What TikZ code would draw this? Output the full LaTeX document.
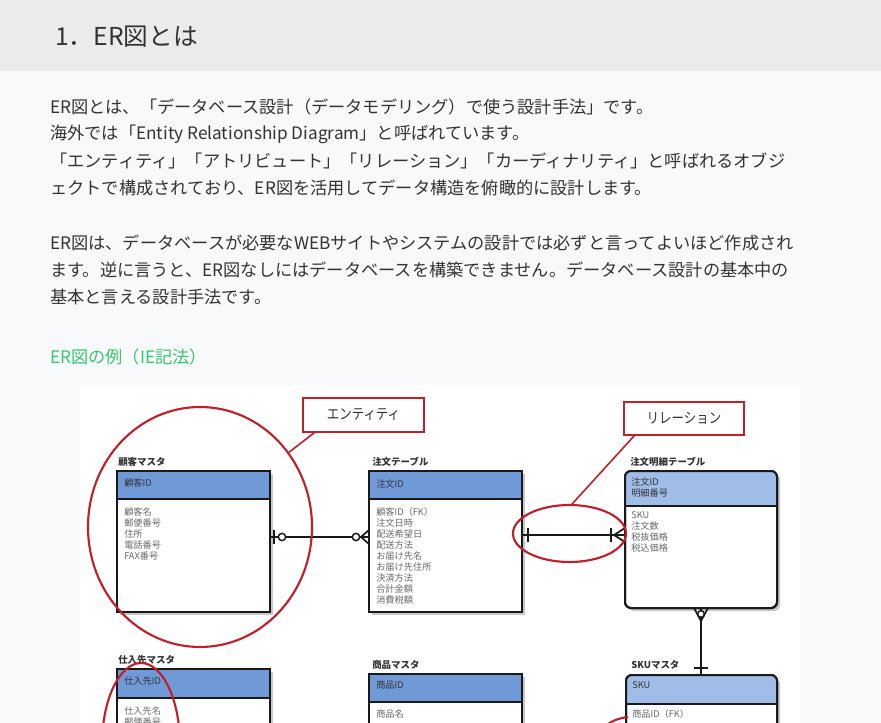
\documentclass[tikz,border=0pt]{standalone}
\usepackage{fontspec}
\setmainfont{Noto Sans CJK JP}
\usetikzlibrary{fit,shapes.geometric}
\definecolor{pagebg}{RGB}{248,249,251}
\definecolor{bandbg}{RGB}{235,235,235}
\definecolor{txt}{RGB}{51,51,51}
\definecolor{grn}{RGB}{52,201,110}
\definecolor{hdrA}{RGB}{112,153,216}
\definecolor{hdrB}{RGB}{160,189,232}
\definecolor{attr}{RGB}{105,105,105}
\definecolor{redl}{RGB}{193,32,42}
\begin{document}
\begin{tikzpicture}[x=0.75pt,y=-0.75pt,
  body/.style={anchor=west,inner sep=0,text=txt,font=\fontsize{12.9pt}{15pt}\selectfont},
  tlabel/.style={anchor=west,inner sep=0,text=black!80,font=\fontsize{7.1pt}{8pt}\selectfont\bfseries},
  hdrtext/.style={anchor=north west,inner sep=0,align=left,text=black!80,font=\fontsize{6.9pt}{8.25pt}\selectfont},
  attrs/.style={anchor=north west,inner sep=0,align=left,text=attr,font=\fontsize{6.9pt}{8.25pt}\selectfont},
  ebox/.style={draw=black!90,line width=1.5pt,fill=white,inner sep=0,outer sep=0},
  hbox/.style={draw=black!90,line width=1.5pt,inner sep=0,outer sep=0},
  shade/.style={fill=black!22},
  conn/.style={draw=black!90,line width=1.5pt},
  sym/.style={draw=black!90,line width=1.3pt},
  ring/.style={draw=black!90,line width=1.1pt,fill=white,circle,inner sep=0,minimum size=5.5pt},
  redbox/.style={draw=redl,line width=1.2pt,fill=white,inner sep=0,text=black!80,font=\fontsize{11pt}{12pt}\selectfont},
  redring/.style={draw=redl,line width=1.6pt,ellipse,inner sep=0},
  redline/.style={draw=redl,line width=1.2pt}
]
\useasboundingbox (0,0) rectangle (881,723);
\clip (0,0) rectangle (881,723);
\fill[pagebg] (0,0) rectangle (881,723);
\fill[bandbg] (0,0) rectangle (881,71);
\node[anchor=west,inner sep=0,text=txt,font=\fontsize{18.5pt}{20pt}\selectfont] (title) at (55,37) {1．ER図とは};

\node[body] (l1) at (50,107) {ER図とは、「データベース設計（データモデリング）で使う設計手法」です。};
\node[body] (l2) at (50,134) {海外では「Entity Relationship Diagram」と呼ばれています。};
\node[body] (l3) at (50,161) {「エンティティ」「アトリビュート」「リレーション」「カーディナリティ」と呼ばれるオブジ};
\node[body] (l4) at (50,188) {ェクトで構成されており、ER図を活用してデータ構造を俯瞰的に設計します。};
\node[body] (m1) at (50,243) {ER図は、データベースが必要なWEBサイトやシステムの設計では必ずと言ってよいほど作成され};
\node[body] (m2) at (50,270) {ます。逆に言うと、ER図なしにはデータベースを構築できません。データベース設計の基本中の};
\node[body] (m3) at (50,297) {基本と言える設計手法です。};
\node[body,text=grn] (ex) at (50,357) {ER図の例（IE記法）};

% diagram canvas
\fill[white] (80,385) rectangle (800,723);

% ---- 顧客マスタ
\node[tlabel] (kokyakuT) at (118,462) {顧客マスタ};
\fill[shade] (120,474) rectangle (273,615);
\node[ebox,fit={(117,471) (270,612)}] (kokyaku) {};
\node[hbox,fill=hdrA,fit={(117,471) (270,499)}] (kokyakuH) {};
\node[hdrtext] (kokyakuK) at (124,479) {顧客ID};
\node[attrs] (kokyakuA) at (124,507) {顧客名\\郵便番号\\住所\\電話番号\\FAX番号};

% ---- 注文テーブル
\node[tlabel] (chumonT) at (372,462) {注文テーブル};
\fill[shade] (372,474) rectangle (525,615);
\node[ebox,fit={(369,471) (522,612)}] (chumon) {};
\node[hbox,fill=hdrA,fit={(369,471) (522,499)}] (chumonH) {};
\node[hdrtext] (chumonK) at (376,479) {注文ID};
\node[attrs] (chumonA) at (376,507) {顧客ID（FK）\\注文日時\\配送希望日\\配送方法\\お届け先名\\お届け先住所\\決済方法\\合計金額\\消費税額};

% ---- 注文明細テーブル
\node[tlabel] (meisaiT) at (630,462) {注文明細テーブル};
\fill[shade,rounded corners=4.5pt] (628,474) rectangle (780,611);
\node[ebox,rounded corners=4.5pt,fit={(625,471) (777,608)}] (meisai) {};
\begin{scope}
\clip[rounded corners=4.5pt] (meisai.north west) rectangle (meisai.south east);
\fill[hdrB] (meisai.north west) rectangle (777,506);
\end{scope}
\draw[conn] (meisai.west |- 0,506) -- (meisai.east |- 0,506);
\draw[conn,rounded corners=4.5pt] (meisai.north west) rectangle (meisai.south east);
\node[hdrtext] (meisaiK) at (631,477) {注文ID\\明細番号};
\node[attrs] (meisaiA) at (631,511) {SKU\\注文数\\税抜価格\\税込価格};

% ---- 仕入先マスタ
\node[tlabel] (shiireT) at (118,660) {仕入先マスタ};
\fill[shade] (120,672) rectangle (273,760);
\node[ebox,fit={(117,669) (270,760)}] (shiire) {};
\node[hbox,fill=hdrA,fit={(117,669) (270,698)}] (shiireH) {};
\node[hdrtext] (shiireK) at (124,677) {仕入先ID};
\node[attrs] (shiireA) at (124,706) {仕入先名\\郵便番号};

% ---- 商品マスタ
\node[tlabel] (shohinT) at (372,665) {商品マスタ};
\fill[shade] (372,677) rectangle (525,760);
\node[ebox,fit={(369,674) (522,760)}] (shohin) {};
\node[hbox,fill=hdrA,fit={(369,674) (522,702)}] (shohinH) {};
\node[hdrtext] (shohinK) at (376,681) {商品ID};
\node[attrs] (shohinA) at (376,709) {商品名};

% ---- SKUマスタ
\node[tlabel] (skuT) at (631,665) {SKUマスタ};
\fill[shade,rounded corners=4.5pt] (629,678) rectangle (780,760);
\node[ebox,rounded corners=4.5pt,fit={(626,675) (777,760)}] (sku) {};
\begin{scope}
\clip[rounded corners=4.5pt] (sku.north west) rectangle (sku.south east);
\fill[hdrB] (sku.north west) rectangle (777,704);
\end{scope}
\draw[conn] (sku.west |- 0,704) -- (sku.east |- 0,704);
\draw[conn,rounded corners=4.5pt] (sku.north west) rectangle (sku.south east);
\node[hdrtext] (skuK) at (632,681) {SKU};
\node[attrs] (skuA) at (632,709) {商品ID（FK）};

% ---- connectors
% 顧客 -> 注文 (y=537)
\coordinate (c1a) at ([yshift=3.375pt]kokyaku.east);
\coordinate (c1b) at (c1a -| chumon.west);
\draw[conn] (c1a) -- (c1b);
\draw[sym] (274,530) -- (274,544);
\node[ring] (c1r1) at (282,537) {};
\draw[sym] (361,537) -- (369,530);
\draw[sym] (361,537) -- (369,544);
\node[ring] (c1r2) at (356,537) {};

% 注文 -> 注文明細 (y=535)
\coordinate (c2a) at ([yshift=4.875pt]chumon.east);
\coordinate (c2b) at (c2a -| meisai.west);
\draw[conn] (c2a) -- (c2b);
\draw[sym] (528,528) -- (528,542);
\draw[sym] (611,528) -- (611,542);
\draw[sym] (614,535) -- (625,528);
\draw[sym] (614,535) -- (625,542);

% 注文明細 -> SKU (x=701)
\coordinate (c3a) at (meisai.south);
\coordinate (c3b) at (c3a |- sku.north);
\draw[conn] (c3a) -- (c3b);
\draw[sym] (694,608) -- (701,621);
\draw[sym] (708,608) -- (701,621);
\node[ring,minimum size=5pt] (c3r) at (701,614) {};
\draw[sym] (694,668) -- (708,668);

% ---- red annotations
\node[redring,minimum width=168pt,minimum height=180pt] (entC) at (200,527) {};
\node[redbox,minimum width=90.75pt,minimum height=25.5pt] (entL) at (363.5,415) {\scalebox{0.85}[1]{エンティティ}};
\draw[redline] ([xshift=9pt]entL.south west) -- (entC.40);

\node[redring,minimum width=84.75pt,minimum height=42.75pt] (relE) at (569.5,533.5) {};
\node[redbox,minimum width=90pt,minimum height=24.75pt] (relL) at (684,418.5) {\scalebox{0.85}[1]{リレーション}};
\draw[redline] ([xshift=8.25pt]relL.south west) -- (relE.85);

\node[redring,minimum width=58.5pt,minimum height=123pt] (shiireE) at (141,745) {};
\draw[redline,line width=1.6pt] (607,725) .. controls (613,720) and (620,718) .. (628,717);
\end{tikzpicture}
\end{document}
